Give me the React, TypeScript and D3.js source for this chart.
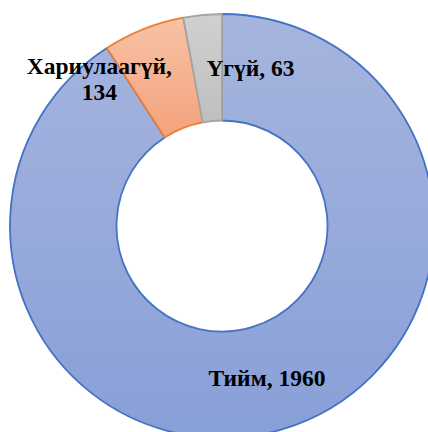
import React from "react";
import * as d3 from "d3";

const categories = ["Тийм", "Хариулаагүй", "Үгүй"];
const values = [1960, 134, 63];
const labelLines = [["Тийм, 1960"], ["Хариулаагүй,", "134"], ["Үгүй, 63"]];
const fillTop = ["#a6b5de", "#f7c2a6", "#d0d0d0"];
const fillBottom = ["#889fd7", "#f4a27d", "#bfbfbf"];
const strokes = ["#4472c4", "#ed7d31", "#a5a5a5"];
const labelShift = [[0, 0], [-64, 0], [43, 0]];

export default function App() {
  const W = 428, H = 432;
  const cx = 222, cy = 226;
  const outerR = 212, innerR = 105.5;
  const data = categories.map((c, i) => ({ c, v: values[i], i }));
  const pie = d3.pie<any>().value((d) => d.v).sort(null);
  const arcs = pie(data);
  const arc = d3.arc<any>().innerRadius(innerR).outerRadius(outerR);
  const lineH = 26;
  return (
    <svg width={W} height={H} style={{ position: "absolute", left: 0, top: 0 }}>
      <defs>
        {data.map((d) => (
          <linearGradient key={d.i} id={`g${d.i}`} x1="0" y1="0" x2="0" y2="1">
            <stop offset="0%" stopColor={fillTop[d.i]} />
            <stop offset="100%" stopColor={fillBottom[d.i]} />
          </linearGradient>
        ))}
      </defs>
      <g transform={`translate(${cx},${cy})`}>
        {arcs.map((a, i) => (
          <path key={i} d={arc(a) || ""} fill={`url(#g${i})`} stroke={strokes[i]} strokeWidth={1.8} strokeLinejoin="round" />
        ))}
        {arcs.map((a, i) => {
          const [x, y] = arc.centroid(a);
          const lines = labelLines[i];
          const tx = x + labelShift[i][0];
          const ty = y + labelShift[i][1] - ((lines.length - 1) * lineH) / 2;
          return (
            <text key={"t" + i} x={tx} y={ty} textAnchor="middle" dominantBaseline="central"
              fontFamily="'Liberation Serif', 'Times New Roman', serif" fontWeight="bold" fontSize={23.5} fill="#000">
              {lines.map((l, j) => (
                <tspan key={j} x={tx} dy={j === 0 ? 0 : lineH}>{l}</tspan>
              ))}
            </text>
          );
        })}
      </g>
    </svg>
  );
}
